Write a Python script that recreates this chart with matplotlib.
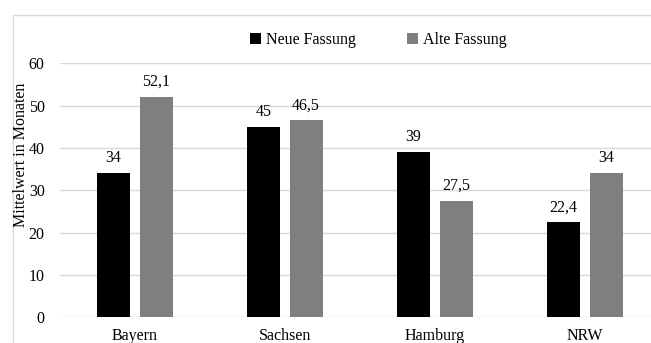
import matplotlib.pyplot as plt
import numpy as np
from matplotlib.patches import Rectangle

regions = ["Bayern", "Sachsen", "Hamburg", "NRW"]
neue = [34, 45, 39, 22.4]
alte = [52.1, 46.5, 27.5, 34]
series_names = ["Neue Fassung", "Alte Fassung"]
y_ticks = [0, 10, 20, 30, 40, 50, 60]

plt.rcParams["font.family"] = ["Liberation Serif", "DejaVu Serif"]
plt.rcParams["font.size"] = 11.5

fig = plt.figure(figsize=(6.51, 3.43), dpi=100)
ax = fig.add_axes([60 / 651, 1 - 317.3 / 343, 600 / 651, 254 / 343])

# outer chart frame, runs off the right and bottom edges
fig.patches.append(Rectangle((12.5 / 651, -0.1), 1.2, 1 - 14.5 / 343 + 0.1,
                             transform=fig.transFigure, fill=False,
                             edgecolor="#d9d9d9", linewidth=1.0, zorder=-1))

x = np.arange(len(regions))
w = 0.22
b1 = ax.bar(x - 0.143, neue, w, color="black", label=series_names[0])
b2 = ax.bar(x + 0.14, alte, w, color="#7f7f7f", label=series_names[1])


def fmt(v):
    s = f"{v:g}"
    return s.replace(".", ",")


for bars, vals in ((b1, neue), (b2, alte)):
    for bar, v in zip(bars, vals):
        ax.annotate(fmt(v), (bar.get_x() + bar.get_width() / 2, v),
                    xytext=(0, 5), textcoords="offset points",
                    ha="center", va="bottom")

ax.set_xlim(-0.5, 3.5)
ax.set_ylim(0, 60)
ax.set_yticks(y_ticks)
ax.set_xticks(x)
ax.set_xticklabels(regions)
ax.yaxis.grid(True, color="#d9d9d9", linewidth=1.0)
ax.set_axisbelow(True)
for s in ax.spines.values():
    s.set_visible(False)
ax.tick_params(length=0)
ax.tick_params(axis="y", pad=11)
ax.tick_params(axis="x", pad=8)

fig.text(21 / 651, 1 - 155 / 343, "Mittelwert in Monaten", rotation=90,
         ha="center", va="center")

fig.legend(loc="center", bbox_to_anchor=(378 / 651, 1 - 40 / 343), ncol=2,
           frameon=False, handlelength=0.7, handleheight=0.7,
           handletextpad=0.3, columnspacing=3.2)

fig.savefig("out.png", dpi=100)
